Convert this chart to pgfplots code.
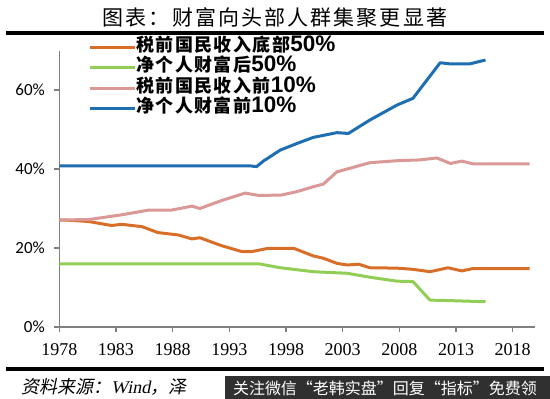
\documentclass[border=0pt]{standalone}
\usepackage{fontspec}
\usepackage{pgfplots}
\pgfplotsset{compat=1.18}
\setmainfont{Liberation Serif}
\newfontfamily\cjk{Noto Sans CJK SC}
\newfontfamily\cjkslant{Noto Sans CJK SC}[FakeSlant=0.2]
\newfontfamily\serifslant{Liberation Serif}[FakeSlant=0.2]
\newfontfamily\cali{Carlito}
\newfontfamily\arialb{Liberation Sans}
\newcommand\num[1]{{\arialb\bfseries\fontsize{22.5}{17.5}\selectfont #1}}
\definecolor{cOrange}{RGB}{217,110,40}
\definecolor{cGreen}{RGB}{146,205,85}
\definecolor{cPink}{RGB}{218,152,150}
\definecolor{cBlue}{RGB}{30,110,178}
\definecolor{cAxis}{RGB}{128,128,128}
\definecolor{cBox}{RGB}{48,48,48}
\begin{document}
\begin{tikzpicture}[x=1pt,y=1pt]
\useasboundingbox (0,0) rectangle (550,399);
% title
\node[font=\cjk\fontsize{21}{21}\selectfont\addfontfeature{LetterSpace=10}] at (275,381.5) {图表：财富向头部人群集聚更显著};
\draw[line width=4pt] (6.3,365.7) -- (543.7,365.7);
\draw[line width=4pt] (6.3,30.3) -- (543.7,30.3);
% source
\node[anchor=west, inner sep=0pt] at (21,12) {\cjkslant\fontsize{18}{18}\selectfont 资料来源：{\serifslant Wind}，泽};
\fill[cBox] (224.5,0) rectangle (550,23.3);
\node[text=white, font=\cjk\fontsize{16}{16}\selectfont] at (385,11) {关注微信“老韩实盘”回复“指标”免费领};
\begin{axis}[
  at={(59.3pt,72pt)}, anchor=south west,
  scale only axis, width=476.1pt, height=276.5pt,
  xmin=1978, xmax=2020, ymin=0, ymax=70,
  axis x line*=bottom, axis y line*=left,
  axis line style={cAxis, line width=1.4pt},
  tick style={cAxis, line width=1.4pt},
  tick align=outside, major tick length=5pt,
  xtick={1978,1983,1988,1993,1998,2003,2008,2013,2018},
  xticklabels={1978,1983,1988,1993,1998,2003,2008,2013,2018},
  xticklabel style={font=\fontsize{18}{18}\selectfont, yshift=-8pt},
  ytick={0,20,40,60},
  yticklabels={0\%,20\%,40\%,60\%},
  yticklabel style={font=\cali\fontsize{17}{17}\selectfont, xshift=-6pt},
  clip=false,
  legend cell align=left,
  legend style={at={(0.054,1.056)}, anchor=north west, draw=none, fill=none,
    font=\cjk\bfseries\fontsize{18}{17.5}\selectfont\addfontfeature{LetterSpace=8},
    nodes={inner sep=0pt, text height=14pt, text depth=6.5pt},
    /tikz/column 2/.style={column sep=7pt}},
  legend image code/.code={\draw[#1] (0pt,0pt) -- (45pt,0pt);},
  every axis plot/.append style={line width=3pt, line join=round},
]
\addplot[cOrange] coordinates {
(1978,27.1) (1979,27.0) (1980.6,26.7) (1982.6,25.7) (1983.5,26.0) (1985.3,25.4)
(1986.7,23.9) (1988.5,23.3) (1989.7,22.3) (1990.4,22.6) (1992.3,20.6) (1994.1,19.1)
(1995,19.1) (1996.4,19.9) (1998.7,19.9) (2000.4,18.0) (2001.3,17.4) (2002.5,16.1)
(2003.4,15.7) (2004.4,15.9) (2005.4,15.0) (2007.8,14.9) (2009.2,14.6) (2010.7,14.0)
(2012.3,15.0) (2013.5,14.2) (2014.5,14.8) (2019.5,14.8)};
\addlegendentry{税前国民收入底部\num{50\%}}
\addplot[cGreen] coordinates {
(1978,16.0) (1995.6,16.0) (1997.5,15.0) (2000.4,14.0) (2003.4,13.6) (2005.4,12.6)
(2007.8,11.6) (2009.2,11.5) (2010.7,6.8) (2012.2,6.7) (2015.6,6.4)};
\addlegendentry{净个人财富后\num{50\%}}
\addplot[cPink] coordinates {
(1978,27.1) (1980.6,27.2) (1983.5,28.4) (1985.9,29.6) (1987.9,29.6) (1989.7,30.6)
(1990.4,30.0) (1992.3,32.0) (1994.4,33.9) (1995.6,33.3) (1997.6,33.4) (1999,34.3)
(2000.4,35.5) (2001.3,36.2) (2002.5,39.3) (2003.9,40.4) (2005.4,41.6) (2007.8,42.1)
(2009.8,42.3) (2011.3,42.8) (2012.5,41.4) (2013.5,42.0) (2014.5,41.3) (2019.5,41.3)};
\addlegendentry{税前国民收入前\num{10\%}}
\addplot[cBlue] coordinates {
(1978,40.8) (1994.8,40.8) (1995.4,40.6) (1996,42.0) (1997.5,44.8) (1999,46.5)
(2000.4,48.0) (2002.5,49.2) (2003.5,49.0) (2005.4,52.4) (2007.8,56.2) (2009.2,57.9)
(2011.6,66.9) (2012.5,66.6) (2014.2,66.6) (2015.6,67.6)};
\addlegendentry{净个人财富前\num{10\%}}
\end{axis}
\end{tikzpicture}
\end{document}
